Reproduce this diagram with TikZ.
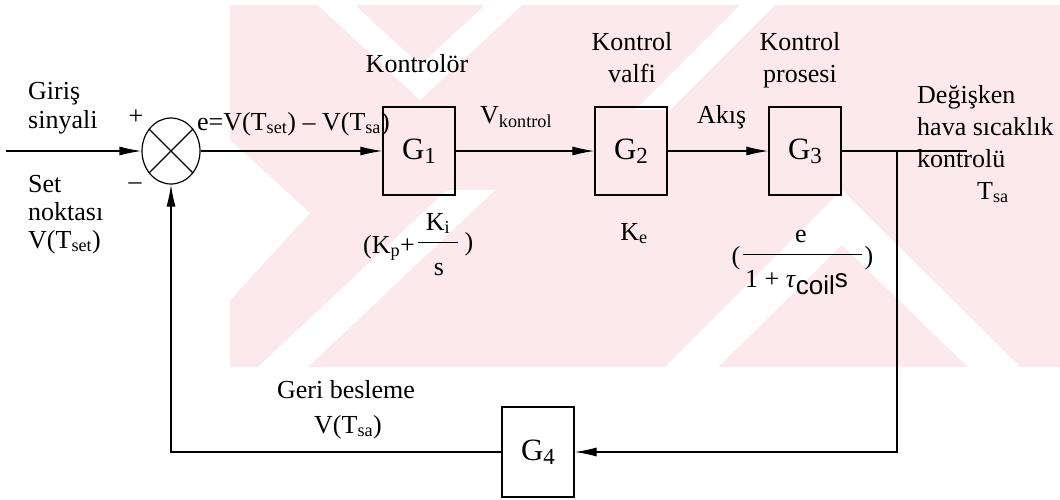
\documentclass[tikz,border=0pt]{standalone}
\usepackage{fontspec}
\setmainfont{Liberation Serif}
\newfontfamily\coilfont{Liberation Sans}
\usetikzlibrary{arrows.meta,shapes.geometric}
\definecolor{wm}{RGB}{252,233,237}
\newcommand{\Gsub}[1]{G\raisebox{-4pt}{\fontsize{23}{23}\selectfont #1}}
\begin{document}
\begin{tikzpicture}[x=1pt,y=-1pt,
  blk/.style={draw, line width=1.3pt, minimum width=72pt, minimum height=88pt, inner sep=0pt, font=\fontsize{31}{31}\selectfont},
  conn/.style={line width=1.2pt},
  arr/.style={conn, -{Latex[length=22pt,width=9pt]}},
  lbl/.style={font=\fontsize{26}{32}\selectfont, inner sep=0pt},
  bar/.style={line width=1pt}]
\path[use as bounding box, fill=white] (0,0) rectangle (1060,499);
% watermark
\fill[wm] (230,5) rectangle (1060,367);
\fill[white] (318,5) -- (522,5) -- (420,100) -- cycle;
\fill[wm] (355,5) -- (485,5) -- (420,65) -- cycle;
\fill[white] (230,140) -- (310,213) -- (230,300) -- cycle;
\fill[white] (258,367) -- (308,367) -- (495,190) -- (447,190) -- cycle;
\fill[white] (740,5) -- (775,5) -- (670,110) -- (635,110) -- cycle;
\fill[white] (842,190) -- (1020,367) -- (968,367) -- (842,245) -- (718,367) -- (665,367) -- cycle;
% blocks
\node[draw, ellipse, line width=1.2pt, minimum width=58pt, minimum height=66pt, inner sep=0pt] (sum) at (171,151) {};
\draw[conn] (sum.135) -- (sum.-45) (sum.45) -- (sum.-135);
\node[blk] (G1) at (419,151) {\Gsub{1}};
\node[blk] (G2) at (631,151) {\Gsub{2}};
\node[blk] (G3) at (805,151) {\Gsub{3}};
\node[blk, minimum height=90pt] (G4) at (538,452) {\Gsub{4}};
% connectors
\coordinate (in) at (6,151);
\coordinate (out) at (967,151);
\coordinate (br) at (897,151);
\draw[arr] (in) -- (sum.west);
\draw[arr] (sum.east) -- (G1.west);
\draw[arr] (G1.east) -- (G2.west);
\draw[arr] (G2.east) -- (G3.west);
\draw[conn] (G3.east) -- (out);
\draw[arr] (br) |- (G4.east);
\draw[arr] (G4.west) -| (sum.south);
% labels
\node[lbl, anchor=base west] (giris) at (28,99) {Giriş};
\node[lbl, anchor=base west] (sinyal) at (28,128) {sinyali};
\node[lbl] (plus) at (136,117) {+};
\node[lbl] (minus) at (135,186) {–};
\node[lbl, anchor=base west] (set) at (28,192) {Set};
\node[lbl, anchor=base west] (nokta) at (28,220) {noktası};
\node[lbl, anchor=base west] (vset) at (28,248) {V(T\textsubscript{set})};
\node[lbl, anchor=base west] (err) at (197,130) {e=V(T\textsubscript{set}) – V(T\textsubscript{sa})};
\node[lbl, anchor=base] (kontrolor) at (417,72) {Kontrolör};
\node[lbl, anchor=base west] (vk) at (480,123) {V\textsubscript{kontrol}};
\node[lbl, anchor=base] (kv1) at (632,50) {Kontrol};
\node[lbl, anchor=base] (kv2) at (632,82) {valfi};
\node[lbl, anchor=base] (kp1) at (800,50) {Kontrol};
\node[lbl, anchor=base] (kp2) at (800,82) {prosesi};
\node[lbl, anchor=base west] (akis) at (697,123) {Akış};
\node[lbl, anchor=base west] (d1) at (917,103) {Değişken};
\node[lbl, anchor=base west] (d2) at (917,135) {hava sıcaklık};
\node[lbl, anchor=base west] (d3) at (917,167) {kontrolü};
\node[lbl, anchor=base west] (tsa) at (977,199) {T\textsubscript{sa}};
\node[lbl, anchor=base] (ke) at (634,240) {K\textsubscript{e}};
\node[lbl, anchor=base] (geri) at (346,398) {Geri besleme};
\node[lbl, anchor=base] (vtsa) at (348,433) {V(T\textsubscript{sa})};
% G1 transfer function
\node[lbl, anchor=base west] (kp) at (363,253) {(K\textsubscript{p}+};
\node[lbl, anchor=base] (ki) at (438,230) {K\textsubscript{i}};
\coordinate (b1l) at (418,242);
\coordinate (b1r) at (458,242);
\draw[bar] (b1l) -- (b1r);
\node[lbl, anchor=base] (s1) at (439,275) {s};
\node[lbl] (rp1) at (469,244) {)};
% G3 transfer function
\node[lbl, anchor=base] (e3) at (801,242) {e};
\coordinate (b3l) at (743,254);
\coordinate (b3r) at (862,254);
\draw[bar] (b3l) -- (b3r);
\node[lbl] (lp3) at (736,258) {(};
\node[lbl] (rp3) at (869,258) {)};
\node[lbl, anchor=base west] (den3) at (745,287) {1 + \textit{τ}\raisebox{-7pt}{\coilfont\fontsize{26}{26}\selectfont coil}{\coilfont s}};
\end{tikzpicture}
\end{document}
